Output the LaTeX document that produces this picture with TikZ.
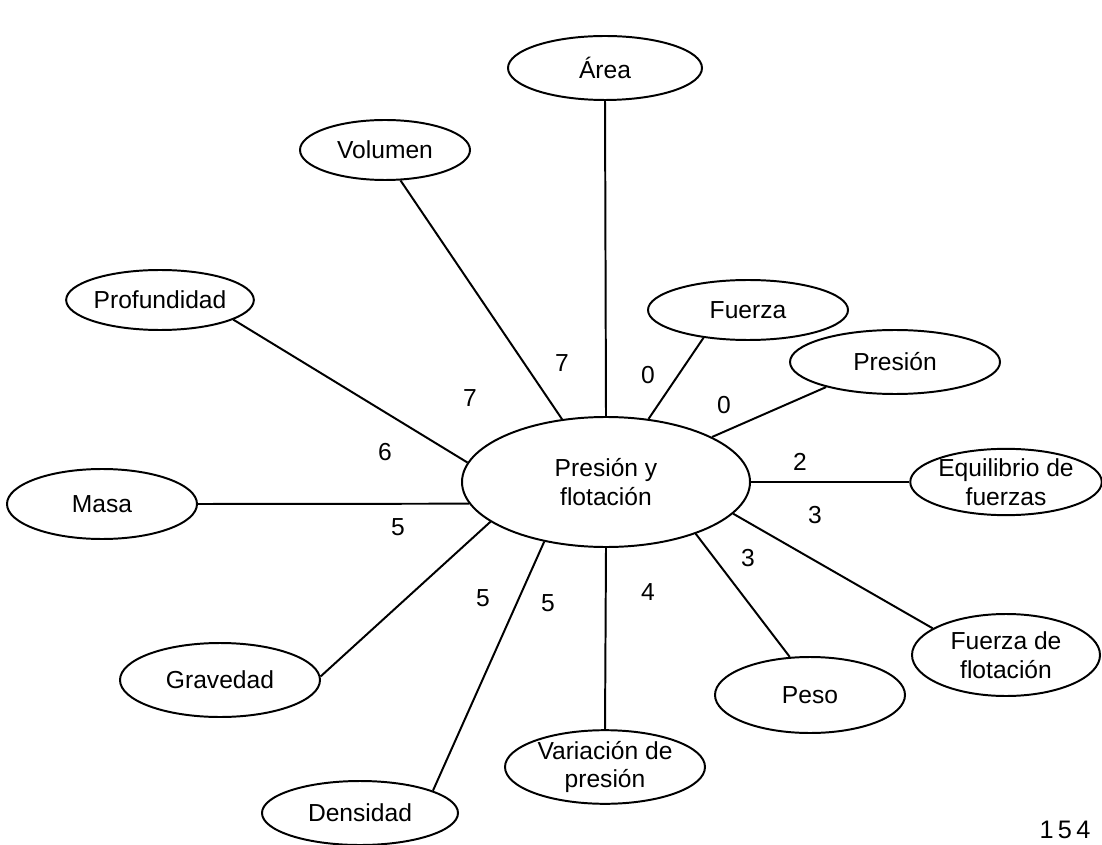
\documentclass[tikz,border=0pt]{standalone}
\usepackage{fontspec}
\setmainfont{Liberation Sans}
\usetikzlibrary{shapes.geometric}
\begin{document}
\begin{tikzpicture}[x=0.025cm,y=-0.025cm,
  bub/.style={draw, ellipse, line width=1.4pt, inner sep=0pt, align=center,
    font=\fontsize{17.5}{20.5}\selectfont},
  link/.style={line width=1.4pt},
  num/.style={font=\fontsize{17.5}{20}\selectfont}]
\useasboundingbox (0,0) rectangle (1102,845);
\node[bub, minimum width=288*0.025cm, minimum height=130*0.025cm] (c) at (606,482) {Presión y\\flotación};
\node[bub, minimum width=194*0.025cm, minimum height=64*0.025cm] (area) at (605,68) {Área};
\node[bub, minimum width=170*0.025cm, minimum height=60*0.025cm] (vol) at (385,150) {Volumen};
\node[bub, minimum width=170*0.025cm, minimum height=60*0.025cm] (prof) at (160,300) {Profundidad};
\node[bub, minimum width=200*0.025cm, minimum height=60*0.025cm] (fue) at (748,310) {Fuerza};
\node[bub, minimum width=210*0.025cm, minimum height=64*0.025cm] (pres) at (895,362) {Presión};
\node[bub, minimum width=190*0.025cm, minimum height=64*0.025cm] (eq) at (1006,482) {Equilibrio de\\fuerzas};
\node[bub, minimum width=190*0.025cm, minimum height=70*0.025cm] (masa) at (102,504) {Masa};
\node[bub, minimum width=188*0.025cm, minimum height=82*0.025cm] (ff) at (1006,655) {Fuerza de\\flotación};
\node[bub, minimum width=190*0.025cm, minimum height=76*0.025cm] (peso) at (810,695) {Peso};
\node[bub, minimum width=200*0.025cm, minimum height=74*0.025cm] (grav) at (220,680) {Gravedad};
\node[bub, minimum width=200*0.025cm, minimum height=68*0.025cm] (var) at (605,767) {Variación de\\presión};
\node[bub, minimum width=196*0.025cm, minimum height=64*0.025cm] (dens) at (360,813) {Densidad};
\draw[link] (area.south) -- (c.north);
\draw[link] (vol.-63) -- (c.125);
\draw[link] (prof.-15) -- (c.172);
\draw[link] (fue.212) -- (c.56);
\draw[link] (pres.200) -- (c.23);
\draw[link] (c.east) -- (eq.west);
\draw[link] (masa.east) -- (c.189);
\draw[link] (c.-14) -- (ff.160);
\draw[link] (c.-30) -- (peso.118);
\draw[link] (c.199) -- (grav.2);
\draw[link] (c.224) -- (dens.17);
\draw[link] (c.south) -- (var.north);
\node[num] (n1) at (470,398) {7};
\node[num] (n2) at (562,363) {7};
\node[num] (n3) at (648,375) {0};
\node[num] (n4) at (724,405) {0};
\node[num] (n5) at (385,452) {6};
\node[num] (n6) at (800,462) {2};
\node[num] (n7) at (815,515) {3};
\node[num] (n8) at (398,527) {5};
\node[num] (n9) at (748,558) {3};
\node[num] (n10) at (483,598) {5};
\node[num] (n11) at (548,603) {5};
\node[num] (n12) at (648,592) {4};
\node[num, font=\fontsize{18}{20}\selectfont] (pg) at (1065,830) {1\,5\,4};
\end{tikzpicture}
\end{document}
